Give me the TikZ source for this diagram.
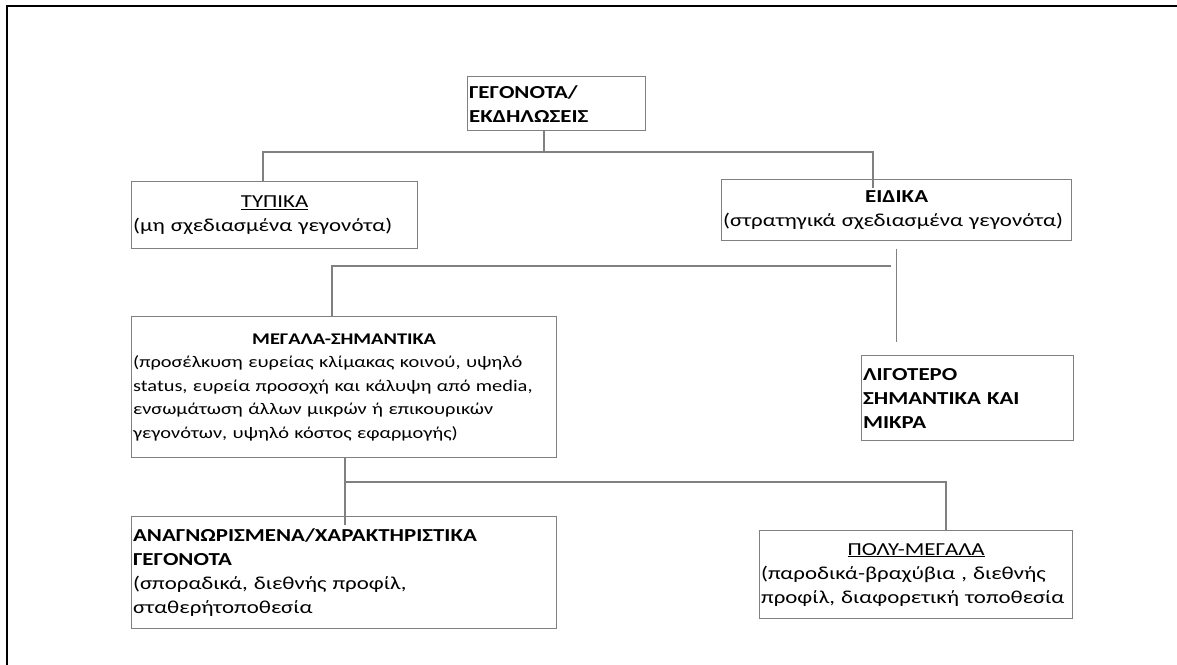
\documentclass[tikz,border=0pt]{standalone}
\usepackage{fontspec}
\setmainfont{Carlito}[FakeStretch=1.25]
\usetikzlibrary{positioning,calc}
\definecolor{edge}{HTML}{808080}
\tikzset{
  box/.style={draw=edge,line width=1.2pt,anchor=north west,align=left,
    inner xsep=1.5pt,inner ysep=2pt,font=\fontsize{18.3}{24}\selectfont},
  link/.style={draw=edge,line width=1.2pt},
  frame/.style={draw=black,line width=2.4pt}
}
\newcommand{\ctrline}[1]{\hfill#1\hfill\null}

\begin{document}
\begin{tikzpicture}[x=1pt,y=-1pt]
  \useasboundingbox (0,0) rectangle (1177,664);
  \draw[frame] (7,680) |- (1190,6);

  \node[box,minimum width=178pt,minimum height=54pt,text width=175pt] (events) at (467,76)
    {\textbf{ΓΕΓΟΝΟΤΑ/}\\\textbf{ΕΚΔΗΛΩΣΕΙΣ}};
  \node[box,minimum width=286pt,minimum height=67pt,text width=283pt] (typical) at (131,181)
    {\ctrline{\underline{ΤΥΠΙΚΑ}}\\(μη σχεδιασμένα γεγονότα)};
  \node[box,minimum width=350pt,minimum height=61pt,text width=347pt] (special) at (721,179)
    {\ctrline{\textbf{ΕΙΔΙΚΑ}}\\(στρατηγικά σχεδιασμένα γεγονότα)};
  \node[box,minimum width=425pt,minimum height=141pt,text width=422pt,
    font=\fontsize{16.3}{23.5}\selectfont] (major) at (131,316)
    {\ctrline{\textbf{ΜΕΓΑΛΑ-ΣΗΜΑΝΤΙΚΑ}}\\(προσέλκυση ευρείας κλίμακας κοινού, υψηλό\\
     status, ευρεία προσοχή και κάλυψη από media,\\
     ενσωμάτωση άλλων μικρών ή επικουρικών\\
     γεγονότων, υψηλό κόστος εφαρμογής)};
  \node[box,minimum width=212pt,minimum height=85pt,text width=209pt] (minor) at (861,355)
    {\textbf{ΛΙΓΟΤΕΡΟ}\\\textbf{ΣΗΜΑΝΤΙΚΑ ΚΑΙ}\\\textbf{ΜΙΚΡΑ}};
  \node[box,minimum width=425pt,minimum height=112pt,text width=422pt] (hallmark) at (131,516)
    {\textbf{ΑΝΑΓΝΩΡΙΣΜΕΝΑ/ΧΑΡΑΚΤΗΡΙΣΤΙΚΑ}\\\textbf{ΓΕΓΟΝΟΤΑ}\\
     (σποραδικά, διεθνής προφίλ,\\σταθερήτοποθεσία};
  \node[box,minimum width=313pt,minimum height=88pt,text width=310pt] (mega) at (759,530)
    {\ctrline{\underline{ΠΟΛΥ-ΜΕΓΑΛΑ}}\\(παροδικά-βραχύβια , διεθνής\\
     προφίλ, διαφορετική τοποθεσία};

  % branch points
  \coordinate (topsplit) at (544,152);
  \coordinate (topleft) at (263,152);
  \coordinate (topright) at (873,152);
  \coordinate (midleft) at (332,266);
  \coordinate (midright) at (891,266);
  \coordinate (lowleft) at (345,482);
  \coordinate (lowright) at (946,482);

  \draw[link] (events.south -| topsplit) -- (topsplit);
  \draw[link] (topleft |- typical.north) -- (topleft) -- (topright)
    -- ([yshift=-9pt]topright |- special.north);
  \draw[link,shorten <=8pt,shorten >=13pt] (special.south) -- (special.south |- minor.north);
  \draw[link] (midright) -- (midleft) -- (midleft |- major.north);
  \draw[link] (major.south -| lowleft) -- ([yshift=-9pt]lowleft |- hallmark.north);
  \draw[link] (lowleft) -- (lowright) -- (lowright |- mega.north);
\end{tikzpicture}
\end{document}
